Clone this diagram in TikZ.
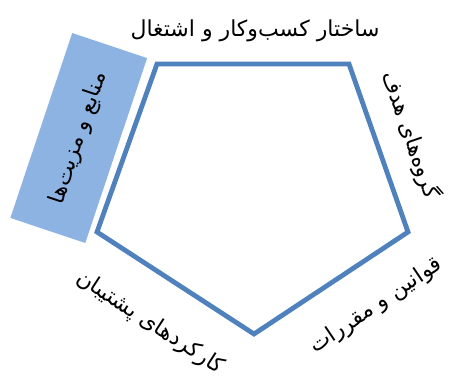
\documentclass[tikz,border=0pt]{standalone}
\usepackage{fontspec}
\usetikzlibrary{positioning}
\TeXXeTstate=1
\newfontfamily\arabicfont[Script=Arabic]{DejaVu Sans}
\definecolor{edgeblue}{HTML}{4F81BD}
\definecolor{boxblue}{HTML}{8DB3E2}
\tikzset{
  rim/.style={draw=edgeblue,line width=2.4pt,line join=miter},
  lb/.style={font=\arabicfont\fontsize{11}{13}\selectfont,inner sep=0pt},
  hilite/.style={fill=boxblue,minimum width=97.5pt,minimum height=39.5pt,inner sep=0pt}
}

\begin{document}
\begin{tikzpicture}[x=0.5pt,y=0.5pt]
  \useasboundingbox (0,0) rectangle (454,382);
  % ---- highlighted side ----
  \node[hilite,lb,rotate=71.5] (res) at (78.75,244) {\beginR منابع و مزیت‌ها\endR};

  % ---- pentagon ----
  \coordinate (tl) at (157,318);
  \coordinate (tr) at (349,318);
  \coordinate (rt) at (408,150);
  \coordinate (bt) at (254,48);
  \coordinate (lf) at (97,150);
  \draw[rim] (tl) -- (tr) -- (rt) -- (bt) -- (lf) -- cycle;

  % ---- side labels ----
  \node[lb] (biz) at (255,351) {\beginR ساختار کسب‌وکار و اشتغال\endR};
  \node[lb,rotate=-71] (grp) at (411,247) {\beginR گروه‌های هدف\endR};
  \node[lb,rotate=34] (law) at (376,76) {\beginR قوانین و مقررات\endR};
  \node[lb,rotate=-33] (sup) at (150,59) {\beginR کارکردهای پشتیبان\endR};
\end{tikzpicture}
\end{document}
